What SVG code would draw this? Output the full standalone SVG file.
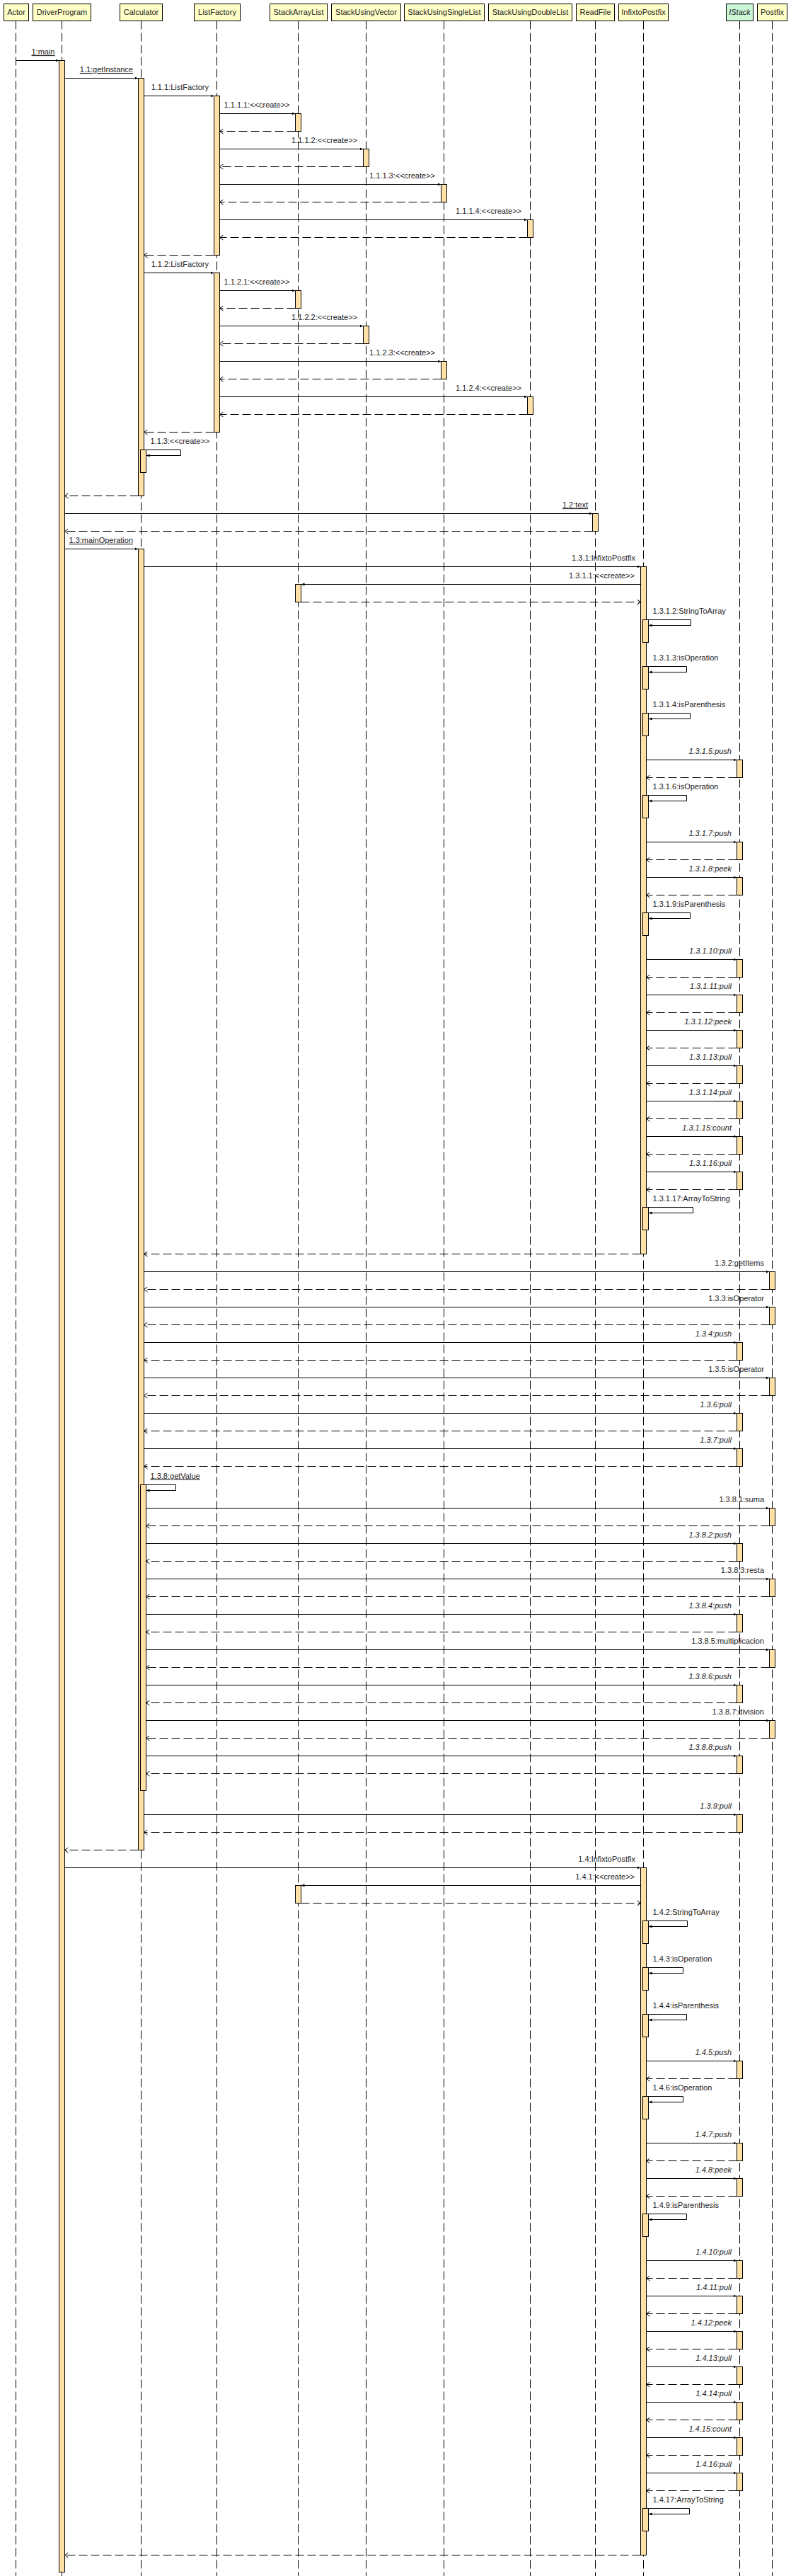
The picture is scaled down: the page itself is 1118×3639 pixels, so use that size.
<svg xmlns="http://www.w3.org/2000/svg" width="1118" height="3639" viewBox="0 0 1118 3639">
<style>
.hdr{fill:#FFFFC8;stroke:#000;stroke-width:1}
.hdrg{fill:#CCF7D6;stroke:#000;stroke-width:1}
.ll{stroke:#000;stroke-width:1;stroke-dasharray:12,5;fill:none}
.act{fill:#FFE0A6;stroke:#000;stroke-width:1}
.msg{stroke:#000;stroke-width:1;fill:none;marker-end:url(#fa)}
.ret{stroke:#000;stroke-width:1;fill:none;stroke-dasharray:12,5;marker-end:url(#oa)}
text{font-family:"Liberation Sans",Arial,Helvetica,sans-serif;font-size:11px;fill:#222}
.h{text-anchor:middle}
.e{text-anchor:end}
.i{font-style:italic}
.u{text-decoration:underline}
</style>
<defs>
<marker id="fa" markerWidth="6" markerHeight="6" refX="5" refY="3" orient="auto" markerUnits="userSpaceOnUse"><path d="M0,1 L5,3 L0,5 z" fill="#000"/></marker>
<marker id="oa" markerWidth="8" markerHeight="8" refX="6" refY="4" orient="auto" markerUnits="userSpaceOnUse"><path d="M1,0.5 L6,4 L1,7.5" fill="none" stroke="#000" stroke-width="1" stroke-dasharray="none"/></marker>
</defs>
<rect width="1118" height="3639" fill="#fff"/>

<g id="actor">
<line class="ll" x1="22.5" y1="29.5" x2="22.5" y2="3639"/>
<rect class="hdr" x="5.5" y="5.5" width="35" height="24"/>
<text class="h" x="23" y="21">Actor</text>
</g>

<g id="driverprogram">
<line class="ll" x1="87.5" y1="29.5" x2="87.5" y2="3639"/>
<rect class="hdr" x="46.5" y="5.5" width="82" height="24"/>
<text class="h" x="87.5" y="21">DriverProgram</text>
<rect class="act" x="83.5" y="85.5" width="8" height="3548"/>
</g>

<g id="calculator">
<line class="ll" x1="199.5" y1="29.5" x2="199.5" y2="3639"/>
<rect class="hdr" x="169.5" y="5.5" width="60" height="24"/>
<text class="h" x="199.5" y="21">Calculator</text>
<rect class="act" x="195.5" y="110.5" width="8" height="590"/>
<rect class="act" x="198.5" y="635.5" width="8" height="32"/>
<rect class="act" x="195.5" y="775.5" width="8" height="1838"/>
<rect class="act" x="198.5" y="2097.5" width="8" height="432"/>
</g>

<g id="listfactory">
<line class="ll" x1="306.5" y1="29.5" x2="306.5" y2="3639"/>
<rect class="hdr" x="274.5" y="5.5" width="65" height="24"/>
<text class="h" x="307" y="21">ListFactory</text>
<rect class="act" x="302.5" y="135.5" width="8" height="225"/>
<rect class="act" x="302.5" y="385.5" width="8" height="225"/>
</g>

<g id="stackarraylist">
<line class="ll" x1="421.5" y1="29.5" x2="421.5" y2="3639"/>
<rect class="hdr" x="381.5" y="5.5" width="81" height="24"/>
<text class="h" x="422" y="21">StackArrayList</text>
<rect class="act" x="417.5" y="160.5" width="8" height="25"/>
<rect class="act" x="417.5" y="410.5" width="8" height="25"/>
<rect class="act" x="417.5" y="825.5" width="8" height="25"/>
<rect class="act" x="417.5" y="2663.5" width="8" height="25"/>
</g>

<g id="stackusingvector">
<line class="ll" x1="517.5" y1="29.5" x2="517.5" y2="3639"/>
<rect class="hdr" x="468.5" y="5.5" width="98" height="24"/>
<text class="h" x="517.5" y="21">StackUsingVector</text>
<rect class="act" x="513.5" y="210.5" width="8" height="25"/>
<rect class="act" x="513.5" y="460.5" width="8" height="25"/>
</g>

<g id="stackusingsinglelist">
<line class="ll" x1="627.5" y1="29.5" x2="627.5" y2="3639"/>
<rect class="hdr" x="571.5" y="5.5" width="113" height="24"/>
<text class="h" x="628" y="21">StackUsingSingleList</text>
<rect class="act" x="623.5" y="260.5" width="8" height="25"/>
<rect class="act" x="623.5" y="510.5" width="8" height="25"/>
</g>

<g id="stackusingdoublelist">
<line class="ll" x1="749.5" y1="29.5" x2="749.5" y2="3639"/>
<rect class="hdr" x="690.5" y="5.5" width="118" height="24"/>
<text class="h" x="749.5" y="21">StackUsingDoubleList</text>
<rect class="act" x="745.5" y="310.5" width="8" height="25"/>
<rect class="act" x="745.5" y="560.5" width="8" height="25"/>
</g>

<g id="readfile">
<line class="ll" x1="841.5" y1="29.5" x2="841.5" y2="3639"/>
<rect class="hdr" x="814.5" y="5.5" width="54" height="24"/>
<text class="h" x="841.5" y="21">ReadFile</text>
<rect class="act" x="837.5" y="725.5" width="8" height="25"/>
</g>

<g id="infixtopostfix">
<line class="ll" x1="909.5" y1="29.5" x2="909.5" y2="3639"/>
<rect class="hdr" x="874.5" y="5.5" width="70" height="24"/>
<text class="h" x="909.5" y="21">InfixtoPostfix</text>
<rect class="act" x="905.5" y="800.5" width="8" height="971"/>
<rect class="act" x="905.5" y="2638.5" width="8" height="971"/>
<rect class="act" x="908.5" y="875.5" width="8" height="32"/>
<rect class="act" x="908.5" y="941.5" width="8" height="32"/>
<rect class="act" x="908.5" y="1007.5" width="8" height="32"/>
<rect class="act" x="908.5" y="1123.5" width="8" height="32"/>
<rect class="act" x="908.5" y="1289.5" width="8" height="32"/>
<rect class="act" x="908.5" y="1705.5" width="8" height="32"/>
<rect class="act" x="908.5" y="2713.5" width="8" height="32"/>
<rect class="act" x="908.5" y="2779.5" width="8" height="32"/>
<rect class="act" x="908.5" y="2845.5" width="8" height="32"/>
<rect class="act" x="908.5" y="2961.5" width="8" height="32"/>
<rect class="act" x="908.5" y="3127.5" width="8" height="32"/>
<rect class="act" x="908.5" y="3543.5" width="8" height="32"/>
</g>

<g id="istack">
<line class="ll" x1="1045.5" y1="29.5" x2="1045.5" y2="3639"/>
<rect class="hdrg" x="1026.5" y="5.5" width="38" height="24"/>
<text class="h i" x="1045.5" y="21">IStack</text>
<rect class="act" x="1041.5" y="1073.5" width="8" height="25"/>
<rect class="act" x="1041.5" y="1189.5" width="8" height="25"/>
<rect class="act" x="1041.5" y="1239.5" width="8" height="25"/>
<rect class="act" x="1041.5" y="1355.5" width="8" height="25"/>
<rect class="act" x="1041.5" y="1405.5" width="8" height="25"/>
<rect class="act" x="1041.5" y="1455.5" width="8" height="25"/>
<rect class="act" x="1041.5" y="1505.5" width="8" height="25"/>
<rect class="act" x="1041.5" y="1555.5" width="8" height="25"/>
<rect class="act" x="1041.5" y="1605.5" width="8" height="25"/>
<rect class="act" x="1041.5" y="1655.5" width="8" height="25"/>
<rect class="act" x="1041.5" y="1896.5" width="8" height="25"/>
<rect class="act" x="1041.5" y="1996.5" width="8" height="25"/>
<rect class="act" x="1041.5" y="2046.5" width="8" height="25"/>
<rect class="act" x="1041.5" y="2180.5" width="8" height="25"/>
<rect class="act" x="1041.5" y="2280.5" width="8" height="25"/>
<rect class="act" x="1041.5" y="2380.5" width="8" height="25"/>
<rect class="act" x="1041.5" y="2480.5" width="8" height="25"/>
<rect class="act" x="1041.5" y="2563.5" width="8" height="25"/>
<rect class="act" x="1041.5" y="2911.5" width="8" height="25"/>
<rect class="act" x="1041.5" y="3027.5" width="8" height="25"/>
<rect class="act" x="1041.5" y="3077.5" width="8" height="25"/>
<rect class="act" x="1041.5" y="3193.5" width="8" height="25"/>
<rect class="act" x="1041.5" y="3243.5" width="8" height="25"/>
<rect class="act" x="1041.5" y="3293.5" width="8" height="25"/>
<rect class="act" x="1041.5" y="3343.5" width="8" height="25"/>
<rect class="act" x="1041.5" y="3393.5" width="8" height="25"/>
<rect class="act" x="1041.5" y="3443.5" width="8" height="25"/>
<rect class="act" x="1041.5" y="3493.5" width="8" height="25"/>
</g>

<g id="postfix">
<line class="ll" x1="1091.5" y1="29.5" x2="1091.5" y2="3639"/>
<rect class="hdr" x="1070.5" y="5.5" width="42" height="24"/>
<text class="h" x="1091.5" y="21">Postfix</text>
<rect class="act" x="1087.5" y="1796.5" width="8" height="25"/>
<rect class="act" x="1087.5" y="1846.5" width="8" height="25"/>
<rect class="act" x="1087.5" y="1946.5" width="8" height="25"/>
<rect class="act" x="1087.5" y="2130.5" width="8" height="25"/>
<rect class="act" x="1087.5" y="2230.5" width="8" height="25"/>
<rect class="act" x="1087.5" y="2330.5" width="8" height="25"/>
<rect class="act" x="1087.5" y="2430.5" width="8" height="25"/>
</g>

<g id="connectors">
<!-- 1 -->
<line class="msg" x1="22.5" y1="85.5" x2="83.5" y2="85.5"/>
<text class="e u" x="77.5" y="77">1:main</text>
<line class="msg" x1="91.5" y1="110.5" x2="195.5" y2="110.5"/>
<text class="e u" x="188" y="102">1.1:getInstance</text>
<line class="msg" x1="203.5" y1="135.5" x2="302.5" y2="135.5"/>
<text class="e" x="295" y="127">1.1.1:ListFactory</text>
<line class="msg" x1="310.5" y1="160.5" x2="417.5" y2="160.5"/>
<text class="e" x="409.5" y="152">1.1.1.1:&lt;&lt;create&gt;&gt;</text>
<line class="ret" x1="417.5" y1="185.5" x2="310.5" y2="185.5"/>
<line class="msg" x1="310.5" y1="210.5" x2="513.5" y2="210.5"/>
<text class="e" x="505" y="202">1.1.1.2:&lt;&lt;create&gt;&gt;</text>
<line class="ret" x1="513.5" y1="235.5" x2="310.5" y2="235.5"/>
<line class="msg" x1="310.5" y1="260.5" x2="623.5" y2="260.5"/>
<text class="e" x="615" y="252">1.1.1.3:&lt;&lt;create&gt;&gt;</text>
<line class="ret" x1="623.5" y1="285.5" x2="310.5" y2="285.5"/>
<line class="msg" x1="310.5" y1="310.5" x2="745.5" y2="310.5"/>
<text class="e" x="737" y="302">1.1.1.4:&lt;&lt;create&gt;&gt;</text>
<line class="ret" x1="745.5" y1="335.5" x2="310.5" y2="335.5"/>
<line class="ret" x1="302.5" y1="360.5" x2="203.5" y2="360.5"/>
<line class="msg" x1="203.5" y1="385.5" x2="302.5" y2="385.5"/>
<text class="e" x="295" y="377">1.1.2:ListFactory</text>
<line class="msg" x1="310.5" y1="410.5" x2="417.5" y2="410.5"/>
<text class="e" x="409.5" y="402">1.1.2.1:&lt;&lt;create&gt;&gt;</text>
<line class="ret" x1="417.5" y1="435.5" x2="310.5" y2="435.5"/>
<line class="msg" x1="310.5" y1="460.5" x2="513.5" y2="460.5"/>
<text class="e" x="505" y="452">1.1.2.2:&lt;&lt;create&gt;&gt;</text>
<line class="ret" x1="513.5" y1="485.5" x2="310.5" y2="485.5"/>
<line class="msg" x1="310.5" y1="510.5" x2="623.5" y2="510.5"/>
<text class="e" x="615" y="502">1.1.2.3:&lt;&lt;create&gt;&gt;</text>
<line class="ret" x1="623.5" y1="535.5" x2="310.5" y2="535.5"/>
<line class="msg" x1="310.5" y1="560.5" x2="745.5" y2="560.5"/>
<text class="e" x="737" y="552">1.1.2.4:&lt;&lt;create&gt;&gt;</text>
<line class="ret" x1="745.5" y1="585.5" x2="310.5" y2="585.5"/>
<line class="ret" x1="302.5" y1="610.5" x2="203.5" y2="610.5"/>
<path class="msg" d="M206.5,635.5 H255.5 V643.5 H206.5"/>
<text x="212.5" y="626.5">1.1.3:&lt;&lt;create&gt;&gt;</text>
<line class="ret" x1="195.5" y1="700.5" x2="91.5" y2="700.5"/>
<line class="msg" x1="91.5" y1="725.5" x2="837.5" y2="725.5"/>
<text class="e u" x="831" y="717">1.2:text</text>
<line class="ret" x1="837.5" y1="750.5" x2="91.5" y2="750.5"/>
<line class="msg" x1="91.5" y1="775.5" x2="195.5" y2="775.5"/>
<text class="e u" x="188" y="767">1.3:mainOperation</text>
<!-- 1.3.1 -->
<line class="msg" x1="203.5" y1="800.5" x2="905.5" y2="800.5"/>
<text class="e" x="898" y="792">1.3.1:InfixtoPostfix</text>
<line class="msg" x1="905.5" y1="825.5" x2="425.5" y2="825.5"/>
<text class="e" x="897" y="817">1.3.1.1:&lt;&lt;create&gt;&gt;</text>
<line class="ret" x1="425.5" y1="850.5" x2="905.5" y2="850.5"/>
<path class="msg" d="M916.5,875.5 H976.5 V883.5 H916.5"/>
<text x="922.5" y="866.5">1.3.1.2:StringToArray</text>
<path class="msg" d="M916.5,941.5 H970.5 V949.5 H916.5"/>
<text x="922.5" y="932.5">1.3.1.3:isOperation</text>
<path class="msg" d="M916.5,1007.5 H975.5 V1015.5 H916.5"/>
<text x="922.5" y="998.5">1.3.1.4:isParenthesis</text>
<line class="msg" x1="913.5" y1="1073.5" x2="1041.5" y2="1073.5"/>
<text class="e i" x="1034" y="1065">1.3.1.5:push</text>
<line class="ret" x1="1041.5" y1="1098.5" x2="913.5" y2="1098.5"/>
<path class="msg" d="M916.5,1123.5 H970.5 V1131.5 H916.5"/>
<text x="922.5" y="1114.5">1.3.1.6:isOperation</text>
<line class="msg" x1="913.5" y1="1189.5" x2="1041.5" y2="1189.5"/>
<text class="e i" x="1034" y="1181">1.3.1.7:push</text>
<line class="ret" x1="1041.5" y1="1214.5" x2="913.5" y2="1214.5"/>
<line class="msg" x1="913.5" y1="1239.5" x2="1041.5" y2="1239.5"/>
<text class="e i" x="1034" y="1231">1.3.1.8:peek</text>
<line class="ret" x1="1041.5" y1="1264.5" x2="913.5" y2="1264.5"/>
<path class="msg" d="M916.5,1289.5 H975.5 V1297.5 H916.5"/>
<text x="922.5" y="1280.5">1.3.1.9:isParenthesis</text>
<line class="msg" x1="913.5" y1="1355.5" x2="1041.5" y2="1355.5"/>
<text class="e i" x="1034" y="1347">1.3.1.10:pull</text>
<line class="ret" x1="1041.5" y1="1380.5" x2="913.5" y2="1380.5"/>
<line class="msg" x1="913.5" y1="1405.5" x2="1041.5" y2="1405.5"/>
<text class="e i" x="1034" y="1397">1.3.1.11:pull</text>
<line class="ret" x1="1041.5" y1="1430.5" x2="913.5" y2="1430.5"/>
<line class="msg" x1="913.5" y1="1455.5" x2="1041.5" y2="1455.5"/>
<text class="e i" x="1034" y="1447">1.3.1.12:peek</text>
<line class="ret" x1="1041.5" y1="1480.5" x2="913.5" y2="1480.5"/>
<line class="msg" x1="913.5" y1="1505.5" x2="1041.5" y2="1505.5"/>
<text class="e i" x="1034" y="1497">1.3.1.13:pull</text>
<line class="ret" x1="1041.5" y1="1530.5" x2="913.5" y2="1530.5"/>
<line class="msg" x1="913.5" y1="1555.5" x2="1041.5" y2="1555.5"/>
<text class="e i" x="1034" y="1547">1.3.1.14:pull</text>
<line class="ret" x1="1041.5" y1="1580.5" x2="913.5" y2="1580.5"/>
<line class="msg" x1="913.5" y1="1605.5" x2="1041.5" y2="1605.5"/>
<text class="e i" x="1034" y="1597">1.3.1.15:count</text>
<line class="ret" x1="1041.5" y1="1630.5" x2="913.5" y2="1630.5"/>
<line class="msg" x1="913.5" y1="1655.5" x2="1041.5" y2="1655.5"/>
<text class="e i" x="1034" y="1647">1.3.1.16:pull</text>
<line class="ret" x1="1041.5" y1="1680.5" x2="913.5" y2="1680.5"/>
<path class="msg" d="M916.5,1705.5 H979.5 V1713.5 H916.5"/>
<text x="922.5" y="1696.5">1.3.1.17:ArrayToString</text>
<line class="ret" x1="905.5" y1="1771.5" x2="203.5" y2="1771.5"/>
<!-- 1.3.2 - 1.3.7 -->
<line class="msg" x1="203.5" y1="1796.5" x2="1087.5" y2="1796.5"/>
<text class="e" x="1080" y="1788">1.3.2:getItems</text>
<line class="ret" x1="1087.5" y1="1821.5" x2="203.5" y2="1821.5"/>
<line class="msg" x1="203.5" y1="1846.5" x2="1087.5" y2="1846.5"/>
<text class="e" x="1080" y="1838">1.3.3:isOperator</text>
<line class="ret" x1="1087.5" y1="1871.5" x2="203.5" y2="1871.5"/>
<line class="msg" x1="203.5" y1="1896.5" x2="1041.5" y2="1896.5"/>
<text class="e i" x="1034" y="1888">1.3.4:push</text>
<line class="ret" x1="1041.5" y1="1921.5" x2="203.5" y2="1921.5"/>
<line class="msg" x1="203.5" y1="1946.5" x2="1087.5" y2="1946.5"/>
<text class="e" x="1080" y="1938">1.3.5:isOperator</text>
<line class="ret" x1="1087.5" y1="1971.5" x2="203.5" y2="1971.5"/>
<line class="msg" x1="203.5" y1="1996.5" x2="1041.5" y2="1996.5"/>
<text class="e i" x="1034" y="1988">1.3.6:pull</text>
<line class="ret" x1="1041.5" y1="2021.5" x2="203.5" y2="2021.5"/>
<line class="msg" x1="203.5" y1="2046.5" x2="1041.5" y2="2046.5"/>
<text class="e i" x="1034" y="2038">1.3.7:pull</text>
<line class="ret" x1="1041.5" y1="2071.5" x2="203.5" y2="2071.5"/>
<!-- 1.3.8 -->
<path class="msg" d="M206.5,2097.5 H248.5 V2105.5 H206.5"/>
<text class="u" x="212.5" y="2088.5">1.3.8:getValue</text>
<line class="msg" x1="206.5" y1="2130.5" x2="1087.5" y2="2130.5"/>
<text class="e" x="1080" y="2122">1.3.8.1:suma</text>
<line class="ret" x1="1087.5" y1="2155.5" x2="206.5" y2="2155.5"/>
<line class="msg" x1="206.5" y1="2180.5" x2="1041.5" y2="2180.5"/>
<text class="e i" x="1034" y="2172">1.3.8.2:push</text>
<line class="ret" x1="1041.5" y1="2205.5" x2="206.5" y2="2205.5"/>
<line class="msg" x1="206.5" y1="2230.5" x2="1087.5" y2="2230.5"/>
<text class="e" x="1080" y="2222">1.3.8.3:resta</text>
<line class="ret" x1="1087.5" y1="2255.5" x2="206.5" y2="2255.5"/>
<line class="msg" x1="206.5" y1="2280.5" x2="1041.5" y2="2280.5"/>
<text class="e i" x="1034" y="2272">1.3.8.4:push</text>
<line class="ret" x1="1041.5" y1="2305.5" x2="206.5" y2="2305.5"/>
<line class="msg" x1="206.5" y1="2330.5" x2="1087.5" y2="2330.5"/>
<text class="e" x="1080" y="2322">1.3.8.5:multiplicacion</text>
<line class="ret" x1="1087.5" y1="2355.5" x2="206.5" y2="2355.5"/>
<line class="msg" x1="206.5" y1="2380.5" x2="1041.5" y2="2380.5"/>
<text class="e i" x="1034" y="2372">1.3.8.6:push</text>
<line class="ret" x1="1041.5" y1="2405.5" x2="206.5" y2="2405.5"/>
<line class="msg" x1="206.5" y1="2430.5" x2="1087.5" y2="2430.5"/>
<text class="e" x="1080" y="2422">1.3.8.7:division</text>
<line class="ret" x1="1087.5" y1="2455.5" x2="206.5" y2="2455.5"/>
<line class="msg" x1="206.5" y1="2480.5" x2="1041.5" y2="2480.5"/>
<text class="e i" x="1034" y="2472">1.3.8.8:push</text>
<line class="ret" x1="1041.5" y1="2505.5" x2="206.5" y2="2505.5"/>
<line class="msg" x1="203.5" y1="2563.5" x2="1041.5" y2="2563.5"/>
<text class="e i" x="1034" y="2555">1.3.9:pull</text>
<line class="ret" x1="1041.5" y1="2588.5" x2="203.5" y2="2588.5"/>
<line class="ret" x1="195.5" y1="2613.5" x2="91.5" y2="2613.5"/>
<!-- 1.4 -->
<line class="msg" x1="91.5" y1="2638.5" x2="905.5" y2="2638.5"/>
<text class="e" x="898" y="2630">1.4:InfixtoPostfix</text>
<line class="msg" x1="905.5" y1="2663.5" x2="425.5" y2="2663.5"/>
<text class="e" x="897" y="2655">1.4.1:&lt;&lt;create&gt;&gt;</text>
<line class="ret" x1="425.5" y1="2688.5" x2="905.5" y2="2688.5"/>
<path class="msg" d="M916.5,2713.5 H971.5 V2721.5 H916.5"/>
<text x="922.5" y="2704.5">1.4.2:StringToArray</text>
<path class="msg" d="M916.5,2779.5 H965.5 V2787.5 H916.5"/>
<text x="922.5" y="2770.5">1.4.3:isOperation</text>
<path class="msg" d="M916.5,2845.5 H970.5 V2853.5 H916.5"/>
<text x="922.5" y="2836.5">1.4.4:isParenthesis</text>
<line class="msg" x1="913.5" y1="2911.5" x2="1041.5" y2="2911.5"/>
<text class="e i" x="1034" y="2903">1.4.5:push</text>
<line class="ret" x1="1041.5" y1="2936.5" x2="913.5" y2="2936.5"/>
<path class="msg" d="M916.5,2961.5 H965.5 V2969.5 H916.5"/>
<text x="922.5" y="2952.5">1.4.6:isOperation</text>
<line class="msg" x1="913.5" y1="3027.5" x2="1041.5" y2="3027.5"/>
<text class="e i" x="1034" y="3019">1.4.7:push</text>
<line class="ret" x1="1041.5" y1="3052.5" x2="913.5" y2="3052.5"/>
<line class="msg" x1="913.5" y1="3077.5" x2="1041.5" y2="3077.5"/>
<text class="e i" x="1034" y="3069">1.4.8:peek</text>
<line class="ret" x1="1041.5" y1="3102.5" x2="913.5" y2="3102.5"/>
<path class="msg" d="M916.5,3127.5 H970.5 V3135.5 H916.5"/>
<text x="922.5" y="3118.5">1.4.9:isParenthesis</text>
<line class="msg" x1="913.5" y1="3193.5" x2="1041.5" y2="3193.5"/>
<text class="e i" x="1034" y="3185">1.4.10:pull</text>
<line class="ret" x1="1041.5" y1="3218.5" x2="913.5" y2="3218.5"/>
<line class="msg" x1="913.5" y1="3243.5" x2="1041.5" y2="3243.5"/>
<text class="e i" x="1034" y="3235">1.4.11:pull</text>
<line class="ret" x1="1041.5" y1="3268.5" x2="913.5" y2="3268.5"/>
<line class="msg" x1="913.5" y1="3293.5" x2="1041.5" y2="3293.5"/>
<text class="e i" x="1034" y="3285">1.4.12:peek</text>
<line class="ret" x1="1041.5" y1="3318.5" x2="913.5" y2="3318.5"/>
<line class="msg" x1="913.5" y1="3343.5" x2="1041.5" y2="3343.5"/>
<text class="e i" x="1034" y="3335">1.4.13:pull</text>
<line class="ret" x1="1041.5" y1="3368.5" x2="913.5" y2="3368.5"/>
<line class="msg" x1="913.5" y1="3393.5" x2="1041.5" y2="3393.5"/>
<text class="e i" x="1034" y="3385">1.4.14:pull</text>
<line class="ret" x1="1041.5" y1="3418.5" x2="913.5" y2="3418.5"/>
<line class="msg" x1="913.5" y1="3443.5" x2="1041.5" y2="3443.5"/>
<text class="e i" x="1034" y="3435">1.4.15:count</text>
<line class="ret" x1="1041.5" y1="3468.5" x2="913.5" y2="3468.5"/>
<line class="msg" x1="913.5" y1="3493.5" x2="1041.5" y2="3493.5"/>
<text class="e i" x="1034" y="3485">1.4.16:pull</text>
<line class="ret" x1="1041.5" y1="3518.5" x2="913.5" y2="3518.5"/>
<path class="msg" d="M916.5,3543.5 H974.5 V3551.5 H916.5"/>
<text x="922.5" y="3534.5">1.4.17:ArrayToString</text>
<line class="ret" x1="905.5" y1="3609.5" x2="91.5" y2="3609.5"/>
</g>
</svg>
